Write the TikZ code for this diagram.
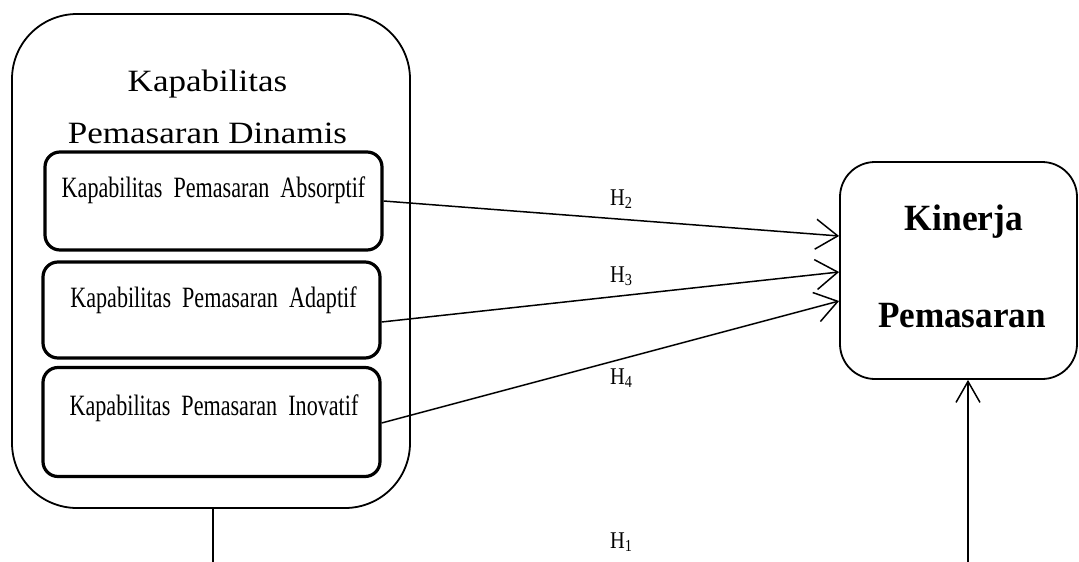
\documentclass[tikz,border=0pt]{standalone}
\usepackage{fontspec}
\setmainfont{Liberation Serif}
\usepackage{graphicx}
\usetikzlibrary{arrows.meta}
\tikzset{
  outerbox/.style={draw, line width=1.8pt, rounded corners=65pt, minimum width=398pt, minimum height=494pt, inner sep=0pt},
  innerbox/.style={draw, line width=3.2pt, rounded corners=15pt, minimum width=337pt, inner sep=0pt},
  kinbox/.style={draw, line width=1.8pt, rounded corners=35pt, minimum width=237pt, minimum height=217pt, inner sep=0pt},
  titletext/.style={anchor=base, inner sep=0pt, font=\fontsize{31}{31}\selectfont},
  itemtext/.style={anchor=base, inner sep=0pt, font=\fontsize{29.5}{29.5}\selectfont},
  kintext/.style={anchor=base, inner sep=0pt, font=\fontsize{37}{37}\selectfont\bfseries},
  hlabel/.style={anchor=base west, inner sep=0pt, font=\fontsize{24}{24}\selectfont},
  conn/.style={line width=1.5pt, -{Straight Barb[length=22pt,width=30pt,line width=1.5pt]}},
}
\begin{document}
\begin{tikzpicture}[x=1pt,y=-1pt]
\useasboundingbox (0,0) rectangle (1079,562);
\node[outerbox] (outer) at (211,261) {};
\node[titletext] (t1) at (207.5,91) {\scalebox{1.13}[1]{Kapabilitas}};
\node[titletext] (t2) at (207.5,143) {\scalebox{1.13}[1]{Pemasaran Dinamis}};
\node[innerbox, minimum height=98pt] (box1) at (213.5,201) {};
\node[innerbox, minimum height=96pt] (box2) at (211.5,310) {};
\node[innerbox, minimum height=109pt] (box3) at (211.5,422) {};
\node[itemtext] (i1) at (213.5,197) {\scalebox{0.75}[1]{Kapabilitas~ Pemasaran~ Absorptif}};
\node[itemtext] (i2) at (213.5,307) {\scalebox{0.75}[1]{Kapabilitas~ Pemasaran~ Adaptif}};
\node[itemtext] (i3) at (214,415) {\scalebox{0.75}[1]{Kapabilitas~ Pemasaran~ Inovatif}};
\node[kinbox] (kin) at (958.5,270.5) {};
\node[kintext] (k1) at (964,230) {\scalebox{0.96}[1]{Kinerja}};
\node[kintext] (k2) at (962,327) {\scalebox{0.95}[1]{Pemasaran}};
\draw[conn] (box1.east) -- ([yshift=34.5pt]kin.west);
\draw[conn] ([yshift=-12pt]box2.east) -- ([yshift=-1.5pt]kin.west);
\draw[conn] ([yshift=-1pt]box3.east) -- ([yshift=-30.5pt]kin.west);
\node[hlabel] (h2) at (610,205) {\scalebox{0.85}[1]{H\textsubscript{2}}};
\node[hlabel] (h3) at (610,282) {\scalebox{0.85}[1]{H\textsubscript{3}}};
\node[hlabel] (h4) at (610,384) {\scalebox{0.85}[1]{H\textsubscript{4}}};
\node[hlabel] (h1) at (610,548) {\scalebox{0.85}[1]{H\textsubscript{1}}};
\coordinate (b1) at (213,562.3);
\coordinate (b2) at (968,562.3);
\draw[line width=1.5pt, -{Straight Barb[length=21pt,width=24pt,line width=1.5pt]}]
  ([xshift=2pt]outer.south) -- (b1) -- (b2) -- ([xshift=9.5pt]kin.south);
\end{tikzpicture}
\end{document}
